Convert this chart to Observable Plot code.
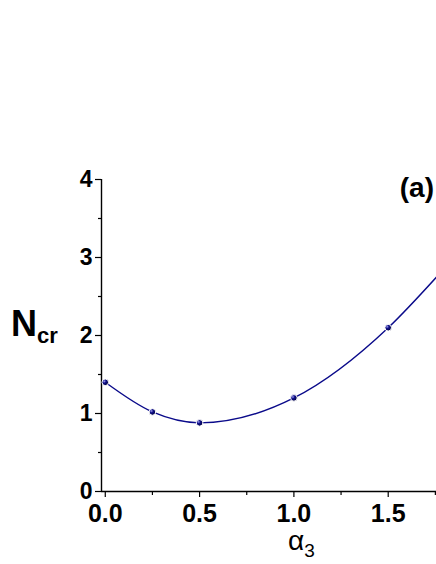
<!DOCTYPE html>
<html>
<head>
<meta charset="utf-8">
<script src="https://cdn.jsdelivr.net/npm/d3@7"></script>
<script src="https://cdn.jsdelivr.net/npm/@observablehq/plot@0.6"></script>
<style>
  html, body { margin: 0; padding: 0; background: #fff; }
  #chart { width: 436px; height: 564px; }
</style>
</head>
<body>
<div id="chart"></div>
<script>
// Data
const alpha3 = [0, 0.25, 0.5, 1.0, 1.5];
const ncr = [1.40, 1.02, 0.88, 1.20, 2.10];
// fitted curve continues past the last marker to the plot's right edge
const curveAlpha3 = [0, 0.25, 0.5, 1.0, 1.5, 1.76];
const curveNcr = [1.40, 1.02, 0.88, 1.20, 2.10, 2.76];
const xMajorTicks = [0, 0.5, 1.0, 1.5];
const xMinorTicks = [0.25, 0.75, 1.25, 1.75];
const yMajorTicks = [0, 1, 2, 3, 4];
const yMinorTicks = [0.5, 1.5, 2.5, 3.5];
const xDomain = [-0.02, 1.756];
const yDomain = [0, 4];

const points = alpha3.map((a, i) => ({a, n: ncr[i]}));
const curve = curveAlpha3.map((a, i) => ({a, n: curveNcr[i]}));

const navy = "#0a0a8a";
const font = "'Liberation Sans', Arial, sans-serif";

const chart = Plot.plot({
  width: 436,
  height: 564,
  marginLeft: 101,
  marginRight: 0,
  marginTop: 179,
  marginBottom: 73,
  x: {domain: xDomain},
  y: {domain: yDomain},
  style: {fontFamily: font, background: "white", overflow: "visible"},
  marks: [
    Plot.axisX({ticks: xMajorTicks, tickSize: 6, tickFormat: d3.format(".1f"), fontSize: 25, fontWeight: "bold", tickPadding: 7, label: null, stroke: "#000", strokeWidth: 1.2, fill: "#000"}),
    Plot.axisX({ticks: xMinorTicks, tickSize: 4, text: null, label: null, stroke: "#000", strokeWidth: 1.2}),
    Plot.axisY({ticks: yMajorTicks, tickSize: 6, tickFormat: d3.format("d"), fontSize: 23, fontWeight: "bold", tickPadding: 3, label: null, stroke: "#000", strokeWidth: 1.2, fill: "#000"}),
    Plot.axisY({ticks: yMinorTicks, tickSize: 3, text: null, label: null, stroke: "#000", strokeWidth: 1.2}),
    Plot.ruleY([yDomain[0]], {stroke: "#000", strokeWidth: 1.4}),
    Plot.ruleX([xDomain[0]], {stroke: "#000", strokeWidth: 1.4}),
    Plot.line(curve, {x: "a", y: "n", curve: "monotone-x", stroke: navy, strokeWidth: 1.4, clip: true}),
    Plot.dot(points, {x: "a", y: "n", r: 3.3, fill: "url(#ballGrad)", stroke: "white", strokeWidth: 1})
  ]
});

// 3D ball gradient for the markers
const svg = d3.select(chart);
const defs = svg.insert("defs", ":first-child");
const g = defs.append("radialGradient").attr("id", "ballGrad").attr("cx", "35%").attr("cy", "35%").attr("r", "65%");
g.append("stop").attr("offset", "0%").attr("stop-color", "#a0a0f0");
g.append("stop").attr("offset", "40%").attr("stop-color", "#10108a");
g.append("stop").attr("offset", "100%").attr("stop-color", "#000040");

// Axis titles and panel label
const yl = svg.append("text").attr("x", 11).attr("y", 336).attr("text-anchor", "start")
  .attr("font-family", font).attr("font-size", 36).attr("font-weight", "bold").attr("fill", "#000");
yl.append("tspan").text("N");
yl.append("tspan").attr("font-size", 22).attr("dy", 7).text("cr");
const xl = svg.append("text").attr("x", 288).attr("y", 550).attr("text-anchor", "start")
  .attr("font-family", font).attr("font-size", 28).attr("fill", "#000");
xl.append("tspan").text("α");
xl.append("tspan").attr("font-size", 19).attr("dy", 7).text("3");
svg.append("text").attr("x", 434).attr("y", 197).attr("text-anchor", "end")
  .attr("font-family", font).attr("font-size", 28).attr("font-weight", "bold").attr("fill", "#000").text("(a)");

document.getElementById("chart").appendChild(chart);
</script>
</body>
</html>
